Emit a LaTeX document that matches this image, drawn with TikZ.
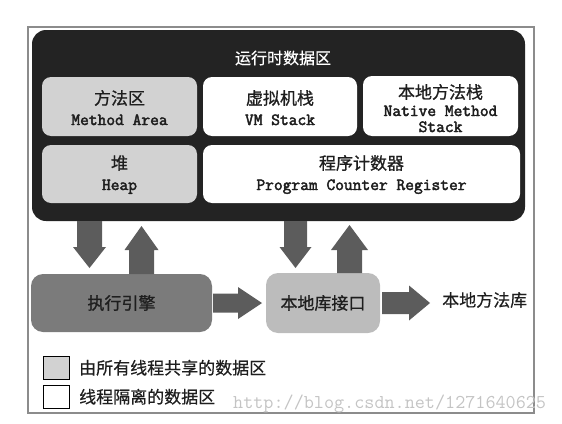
\documentclass[tikz,border=0pt]{standalone}
\usepackage{fontspec}
\newfontfamily\cjk[FakeBold=0.5]{Noto Sans CJK SC}
\newfontfamily\cjkb[FakeBold=1.0]{Noto Sans CJK SC}
\newfontfamily\enf[FakeBold=2.6]{Latin Modern Mono}
\usetikzlibrary{calc}
\definecolor{darkbg}{HTML}{232323}
\definecolor{sharedgray}{HTML}{D2D2D2}
\definecolor{enginegray}{HTML}{7B7B7B}
\definecolor{nativegray}{HTML}{BCBCBC}
\definecolor{arrowgray}{HTML}{5C5C5C}
\definecolor{framegray}{HTML}{8C8C8C}
\definecolor{wmgray}{HTML}{C4C4C4}
\definecolor{inktext}{HTML}{1E1E1E}
\newcommand\cnBox{\cjkb\fontsize{17}{20}\selectfont}
\newcommand\cnPlain{\cjk\fontsize{17}{20}\selectfont}
\newcommand\enBox{\enf\fontsize{17}{20}\selectfont}
\tikzset{
  fat/.style n args={5}{to path={
    let \p1=(\tikztostart), \p2=(\tikztotarget),
        \n1={veclen(\x2-\x1,\y2-\y1)},
        \n2={(\x2-\x1)/\n1}, \n3={(\y2-\y1)/\n1},
        \n4={\n1-(#5)}, \n5={\n1-(#5)-(#3)} in
    ({\x1+(#4)*\n2-(#1)*\n3},{\y1+(#4)*\n3+(#1)*\n2})
    -- ({\x1+\n5*\n2-(#1)*\n3},{\y1+\n5*\n3+(#1)*\n2})
    -- ({\x1+\n5*\n2-(#2)*\n3},{\y1+\n5*\n3+(#2)*\n2})
    -- ({\x1+\n4*\n2},{\y1+\n4*\n3})
    -- ({\x1+\n5*\n2+(#2)*\n3},{\y1+\n5*\n3-(#2)*\n2})
    -- ({\x1+\n5*\n2+(#1)*\n3},{\y1+\n5*\n3-(#1)*\n2})
    -- ({\x1+(#4)*\n2+(#1)*\n3},{\y1+(#4)*\n3-(#1)*\n2})
    -- cycle}},
  box/.style={rounded corners=9pt, anchor=north west, inner sep=0pt, outer sep=0pt},
  cn/.style={anchor=base, inner sep=0pt, font=\cnBox, text=inktext},
  en/.style={anchor=base, inner sep=0pt, font=\enBox, text=inktext},
  legbox/.style={draw=black, line width=0.8pt, anchor=north west, inner sep=0pt, outer sep=0pt, minimum width=26pt, minimum height=23.5pt},
  arrowfill/.style={fill=arrowgray}
}
\begin{document}
\begin{tikzpicture}[x=1pt,y=-1pt]
\useasboundingbox (0,0) rectangle (562,423);
% outer frame
\node[draw=framegray, line width=1.3pt, anchor=north west, inner sep=0pt, outer sep=0pt,
      minimum width=506pt, minimum height=386pt] (frame) at (28,27) {};
% runtime data area
\node[box, rounded corners=14pt, fill=darkbg, minimum width=493pt, minimum height=191pt] (rt) at (32,30) {};
\node[inner sep=0pt, text=white, font=\cjk\fontsize{16}{18}\selectfont] (title) at (283,58) {运行时数据区};
\node[box, fill=sharedgray, minimum width=155pt, minimum height=59pt] (ma) at (42,77) {};
\node[box, fill=white, minimum width=154pt, minimum height=59pt] (vm) at (203,77) {};
\node[box, fill=white, minimum width=155pt, minimum height=60pt] (nms) at (363,76) {};
\node[box, fill=sharedgray, minimum width=155pt, minimum height=58pt] (heap) at (42,145) {};
\node[box, fill=white, minimum width=317pt, minimum height=58pt] (pc) at (203,145) {};
\node[cn] (maT) at ([yshift=-27.5pt]ma.north) {方法区};
\node[en] (maE) at ([yshift=-48pt]ma.north) {Method Area};
\node[cn] (vmT) at ([yshift=-27.5pt]vm.north) {虚拟机栈};
\node[en] (vmE) at ([yshift=-48pt]vm.north) {VM Stack};
\node[cn] (nmsT) at ([yshift=-22.5pt]nms.north) {本地方法栈};
\node[en] (nmsE1) at ([yshift=-40pt]nms.north) {Native Method};
\node[en] (nmsE2) at ([yshift=-56pt]nms.north) {Stack};
\node[cn] (heapT) at ([yshift=-24.5pt]heap.north) {堆};
\node[en] (heapE) at ([yshift=-45pt]heap.north) {Heap};
\node[cn] (pcT) at ([yshift=-24.5pt]pc.north) {程序计数器};
\node[en] (pcE) at ([yshift=-45pt]pc.north) {Program Counter Register};
% execution engine, native interface, native library
\node[box, rounded corners=12pt, fill=enginegray, minimum width=181pt, minimum height=58pt,
      font=\cnBox, text=inktext] (exec) at (31,274) {执行引擎};
\node[box, rounded corners=12pt, fill=nativegray, minimum width=114pt, minimum height=60pt,
      font=\cnBox, text=inktext] (nli) at (266,273) {本地库接口};
\node[anchor=west, inner sep=0pt, font=\cnPlain, text=inktext] (nml) at (442,300) {本地方法库};
% arrow x positions
\coordinate (xa) at (89.5,0);
\coordinate (xb) at (141.5,0);
\coordinate (xc) at (295.5,0);
\coordinate (xd) at (349.5,0);
% fat arrows
\fill[arrowfill] (xa |- rt.south) to[fat={12.5}{16.5}{21}{0}{6}] (xa |- exec.north);
\fill[arrowfill] (xb |- exec.north) to[fat={12.5}{17}{24}{0}{5}] (xb |- rt.south);
\fill[arrowfill] (xc |- rt.south) to[fat={11.5}{16}{21}{0}{5}] (xc |- nli.north);
\fill[arrowfill] (xd |- nli.north) to[fat={12.5}{18.5}{25}{0}{4}] (xd |- rt.south);
\fill[arrowfill] (exec.east) to[fat={9.5}{16}{24}{1}{4}] (exec.east -| nli.west);
\fill[arrowfill] (nli.east) to[fat={11}{17.5}{21}{2}{12}] (nli.east -| nml.west);
% legend
\node[legbox, fill=sharedgray] (lg1) at (43,356) {};
\node[legbox, fill=white] (lg2) at (43,385) {};
\node[anchor=west, inner sep=0pt, font=\cnPlain, text=inktext] (lt1) at ([xshift=10pt]lg1.east) {由所有线程共享的数据区};
\node[anchor=west, inner sep=0pt, font=\cnPlain, text=inktext] (lt2) at ([xshift=10pt]lg2.east) {线程隔离的数据区};
% watermark
\node[anchor=base west, inner sep=0pt, text=wmgray, font=\ttfamily\fontsize{19.6}{20}\selectfont] (wm) at (233,408.5) {http://blog.csdn.net/1271640625};
\end{tikzpicture}
\end{document}
